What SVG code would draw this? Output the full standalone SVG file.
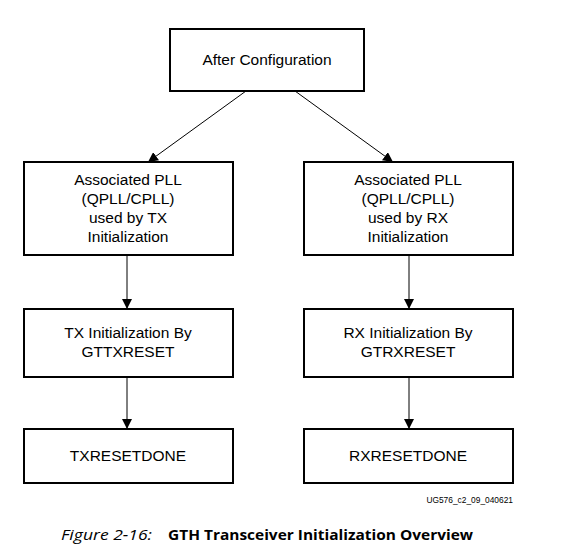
<svg xmlns="http://www.w3.org/2000/svg" width="563" height="547" viewBox="0 0 563 547">
<style>
.box{fill:#fff;stroke:#000;stroke-width:2}
.t{font-family:"Liberation Sans",Arial,sans-serif;font-size:15.5px;text-anchor:middle;fill:#000}
.c{stroke:#000;stroke-width:1;fill:none;marker-end:url(#ah)}
.cap{font-family:"Open Sans","Noto Sans",sans-serif;font-size:14.5px;fill:#000}
</style>
<defs>
<marker id="ah" viewBox="0 0 10 10" refX="10" refY="5" markerWidth="10" markerHeight="10" markerUnits="userSpaceOnUse" orient="auto">
<path d="M0,0 L10,5 L0,10 z" fill="#000"/>
</marker>
</defs>
<rect width="563" height="547" fill="#fff"/>
<g id="connectors">
<line class="c" x1="246" y1="91" x2="148" y2="162"/>
<line class="c" x1="295" y1="91" x2="393" y2="162"/>
<line class="c" x1="127" y1="256" x2="127" y2="309"/>
<line class="c" x1="409" y1="256" x2="409" y2="309"/>
<line class="c" x1="127" y1="377" x2="127" y2="429"/>
<line class="c" x1="409" y1="377" x2="409" y2="429"/>
</g>
<g id="n_after">
<rect class="box" x="170" y="29" width="194" height="62"/>
<text class="t" x="267" y="65">After Configuration</text>
</g>
<g id="n_pll_tx">
<rect class="box" x="24" y="162" width="209" height="93"/>
<text class="t" x="128" y="185">Associated PLL</text>
<text class="t" x="128" y="204">(QPLL/CPLL)</text>
<text class="t" x="128" y="223">used by TX</text>
<text class="t" x="128" y="242">Initialization</text>
</g>
<g id="n_pll_rx">
<rect class="box" x="304" y="162" width="209" height="93"/>
<text class="t" x="408" y="185">Associated PLL</text>
<text class="t" x="408" y="204">(QPLL/CPLL)</text>
<text class="t" x="408" y="223">used by RX</text>
<text class="t" x="408" y="242">Initialization</text>
</g>
<g id="n_tx_init">
<rect class="box" x="24" y="309" width="209" height="68"/>
<text class="t" x="128" y="338">TX Initialization By</text>
<text class="t" x="128" y="357">GTTXRESET</text>
</g>
<g id="n_rx_init">
<rect class="box" x="304" y="309" width="209" height="68"/>
<text class="t" x="408" y="338">RX Initialization By</text>
<text class="t" x="408" y="357">GTRXRESET</text>
</g>
<g id="n_txdone">
<rect class="box" x="24" y="429" width="209" height="54"/>
<text class="t" x="128" y="461">TXRESETDONE</text>
</g>
<g id="n_rxdone">
<rect class="box" x="304" y="429" width="209" height="54"/>
<text class="t" x="408" y="461">RXRESETDONE</text>
</g>
<text x="513" y="503" font-family="'Liberation Sans',Arial,sans-serif" font-size="8.4" text-anchor="end" fill="#000">UG576_c2_09_040621</text>
<text class="cap" x="61" y="540" font-style="italic" textLength="91" lengthAdjust="spacingAndGlyphs">Figure 2-16:</text>
<text class="cap" x="168" y="540" font-weight="bold" textLength="305" lengthAdjust="spacingAndGlyphs">GTH Transceiver Initialization Overview</text>
</svg>
